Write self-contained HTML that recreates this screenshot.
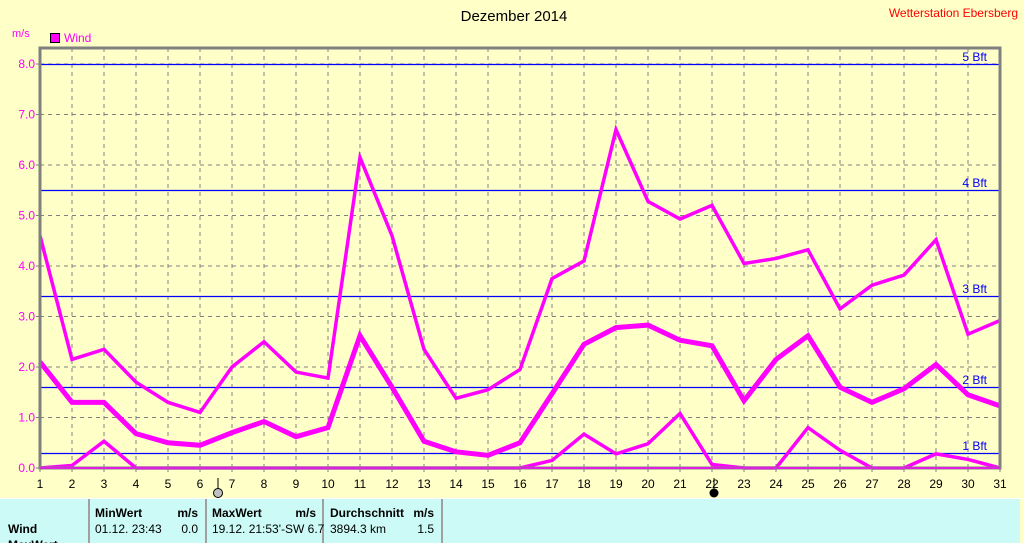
<!DOCTYPE html>
<html><head><meta charset="utf-8"><style>
body{margin:0;background:#ffffc8;width:1024px;height:543px;overflow:hidden;font-family:"Liberation Sans",sans-serif}
svg{display:block}
</style></head><body>
<svg width="1024" height="543" xmlns="http://www.w3.org/2000/svg" font-family="Liberation Sans, sans-serif">
<rect width="1024" height="543" fill="#ffffc8"/>
<text x="514" y="21" font-size="15" text-anchor="middle" fill="#000">Dezember 2014</text>
<text x="1018" y="17" font-size="12" text-anchor="end" fill="#ff0000">Wetterstation Ebersberg</text>
<text x="12" y="37" font-size="11" fill="#ff00ff">m/s</text>
<rect x="50.5" y="33.5" width="9" height="9" fill="#ff00ff" stroke="#000"/>
<text x="64" y="42" font-size="12" fill="#ff00ff">Wind</text>
<g id="grid" stroke="#808080" stroke-dasharray="4,4" stroke-width="1"></g>
<g id="bft"></g>
<g id="series" fill="none" stroke="#ff00ff" stroke-width="4" stroke-linejoin="miter"></g>
<rect x="40" y="48" width="960" height="420" fill="none" stroke="#808080" stroke-width="3"/>
<line x1="40" y1="468" x2="1000" y2="468" stroke="#ff00ff" stroke-width="1.5"/>
<g id="lab"></g>
<line x1="218" y1="478" x2="218" y2="490" stroke="#000"/>
<circle cx="218" cy="493" r="4.5" fill="#c0c0c0" stroke="#000"/>
<line x1="714" y1="478" x2="714" y2="490" stroke="#000"/>
<circle cx="714" cy="493" r="4.5" fill="#000"/>
<rect x="0" y="499" width="1020" height="44" fill="#ccfaf6"/>
<rect x="0" y="498" width="1024" height="1" fill="#fff"/>
<g stroke="#a0a0a0" stroke-width="2"><line x1="89" y1="499" x2="89" y2="543"/><line x1="206" y1="499" x2="206" y2="543"/><line x1="323" y1="499" x2="323" y2="543"/><line x1="442" y1="499" x2="442" y2="543"/></g>
<g font-size="12" fill="#000">
<text x="95" y="517" font-weight="bold">MinWert</text><text x="198" y="517" text-anchor="end" font-weight="bold">m/s</text>
<text x="212" y="517" font-weight="bold">MaxWert</text><text x="316" y="517" text-anchor="end" font-weight="bold">m/s</text>
<text x="330" y="517" font-weight="bold">Durchschnitt</text><text x="434" y="517" text-anchor="end" font-weight="bold">m/s</text>
<text x="8" y="533" font-weight="bold">Wind</text>
<text x="95" y="533">01.12.  23:43</text><text x="198" y="533" text-anchor="end">0.0</text>
<text x="212" y="533">19.12.  21:53'-SW 6.7</text>
<text x="330" y="533">3894.3 km</text><text x="434" y="533" text-anchor="end">1.5</text>
<text x="8" y="549" font-weight="bold">MaxWert</text>
</g>
</svg>
<script>
const X=d=>40+(d-1)*32, Y=v=>468-v*50.5, NS="http://www.w3.org/2000/svg";
function el(p,t,a,txt){const e=document.createElementNS(NS,t);for(const k in a)e.setAttribute(k,a[k]);if(txt!=null)e.textContent=txt;document.getElementById(p).appendChild(e);}
for(let d=2;d<=30;d++)el("grid","line",{x1:X(d),y1:48,x2:X(d),y2:468});
for(let v=1;v<=8;v++)el("grid","line",{x1:40,y1:Y(v),x2:1000,y2:Y(v)});
[[8,"5 Bft"],[5.5,"4 Bft"],[3.4,"3 Bft"],[1.6,"2 Bft"],[0.3,"1 Bft"]].forEach(([v,t])=>{
 const y=Math.round(Y(v));el("bft","line",{x1:40,y1:y+0.5,x2:1000,y2:y+0.5,stroke:"#0000ff","stroke-width":1.2});
 el("bft","text",{x:987,y:y-3,"font-size":12,fill:"#0000ff","text-anchor":"end"},t);});
for(let v=0;v<=8;v++){el("lab","text",{x:35,y:Y(v)+4,"font-size":12,fill:"#ff00ff","text-anchor":"end"},v.toFixed(1));el("lab","line",{x1:36,y1:Y(v),x2:40,y2:Y(v),stroke:"#808080"});}
for(let d=1;d<=31;d++){el("lab","text",{x:X(d),y:488,"font-size":12,fill:"#000","text-anchor":"middle"},d);el("lab","line",{x1:X(d),y1:468,x2:X(d),y2:472,stroke:"#808080"});}
const mx=[4.6,2.15,2.35,1.7,1.3,1.1,2.0,2.5,1.9,1.78,6.15,4.6,2.35,1.38,1.55,1.95,3.75,4.1,6.7,5.28,4.93,5.2,4.05,4.15,4.32,3.15,3.62,3.82,4.52,2.65,2.92];
const av=[2.1,1.3,1.3,0.68,0.5,0.45,0.7,0.92,0.62,0.8,2.62,1.6,0.53,0.32,0.25,0.5,1.47,2.45,2.78,2.83,2.53,2.42,1.33,2.15,2.62,1.6,1.3,1.57,2.05,1.45,1.23];
const mn=[0,0.05,0.53,0,0,0,0,0,0,0,0,0,0,0,0,0,0.15,0.67,0.28,0.48,1.08,0.07,0,0,0.8,0.35,0,0,0.28,0.17,0];
[[mx,3.5],[av,5],[mn,3.5]].forEach(([a,w])=>el("series","polyline",{points:a.map((v,i)=>X(i+1)+","+Y(v)).join(" "),"stroke-width":w}));
</script>
</body></html>
